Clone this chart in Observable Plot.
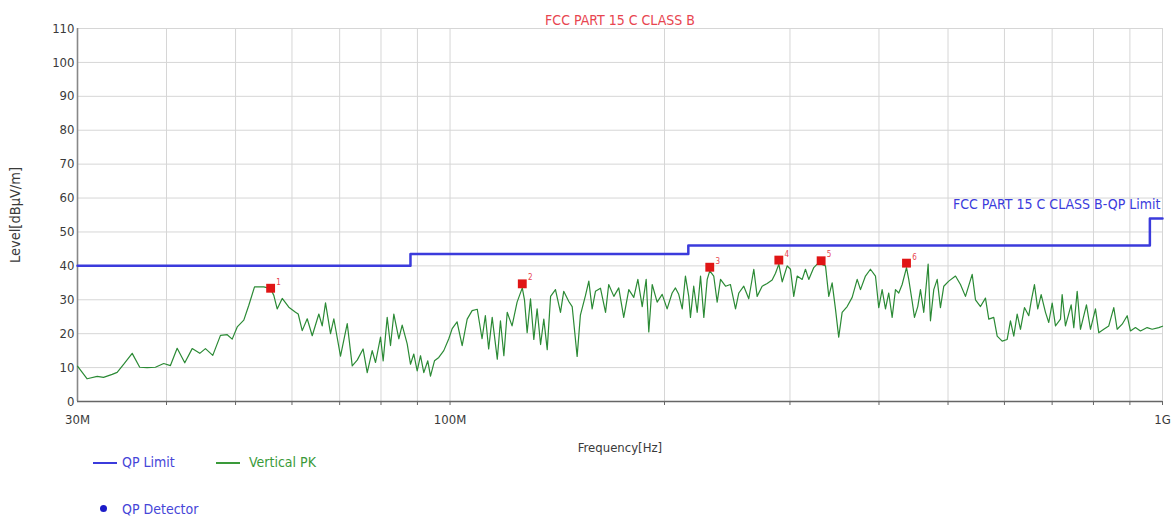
<!DOCTYPE html>
<html>
<head>
<meta charset="utf-8">
<script src="https://cdn.jsdelivr.net/npm/d3@7"></script>
<script src="https://cdn.jsdelivr.net/npm/@observablehq/plot@0.6"></script>
<style>
  html, body { margin: 0; padding: 0; background: #fff; }
  #wrap { position: relative; width: 1175px; height: 523px; font-family: "DejaVu Sans Condensed", "Liberation Sans Narrow", sans-serif; }
  .leg { position: absolute; font-size: 14px; line-height: 14px; white-space: nowrap; }
  .legline { position: absolute; height: 2px; }
  .legdot { position: absolute; width: 7px; height: 7px; border-radius: 50%; background: #1c1cc8; }
</style>
</head>
<body>
<div id="wrap"></div>
<script>
// ---- data ----
const titleText = "FCC PART 15 C CLASS B";
const limitName = "FCC PART 15 C CLASS B-QP Limit";
const xAxisLabel = "Frequency[Hz]";
const yAxisLabel = "Level[dBµV/m]";
const xTickValues = [30, 100, 1000];
const xTickLabels = ["30M", "100M", "1G"];
const xGridFreqs = [40, 50, 60, 70, 80, 90, 100, 200, 300, 400, 500, 600, 700, 800, 900, 1000];
const yTicks = [0, 10, 20, 30, 40, 50, 60, 70, 80, 90, 100, 110];

// QP limit (MHz, dBuV/m), step-after
const limitFreq = [30, 88, 216, 960, 1000];
const limitLevel = [40, 43.5, 46, 54, 54];

// Vertical PK trace (MHz)
const traceFreq = [
  30, 30.95, 31.97, 32.63, 33.56, 34.1, 34.84, 35.8, 36.68, 37.57, 38.59, 39.64, 40.51, 41.4, 42.43, 43.46, 44.54, 45.36, 46.45, 47.62,
  48.67, 49.46, 50.27, 51.35, 52.19, 53.16, 54.78, 55.98, 56.58, 57.2, 58.14, 59.39, 60.69, 61.22, 62.02, 63.03, 64.06, 65.44, 66.16, 66.87,
  67.96, 68.69, 70.19, 71.73, 72.9, 74.08, 75.5, 76.52, 77.76, 78.6, 79.88, 80.57, 81.62, 82.5, 83.39, 84.75, 85.67, 87.07, 88.0, 88.95,
  89.93, 90.9, 91.87, 93.06, 93.88, 95.1, 96.43, 98.0, 99.6, 100.7, 102.3, 104.0, 105.7, 107.4, 109.2, 110.9, 112.1, 113.3, 114.6, 116.5,
  117.7, 119.0, 120.3, 122.2, 124.2, 126.3, 127.2, 128.3, 129.7, 131.1, 132.5, 134.0, 135.4, 136.9, 138.4, 140.6, 142.9, 144.4, 146.8, 148.4,
  150.8, 152.4, 154.9, 156.6, 158.3, 160.0, 162.6, 165.3, 167.0, 169.8, 172.5, 175.3, 178.2, 181.1, 183.5, 186.1, 188.5, 190.1, 192.2, 195.3,
  198.5, 201.7, 205.0, 207.2, 209.4, 211.8, 214.0, 216.3, 217.5, 219.8, 222.3, 224.7, 227.1, 229.6, 231.5, 234.5, 237.1, 239.7, 243.6, 247.5,
  251.6, 254.3, 258.4, 262.6, 266.9, 269.8, 274.2, 278.7, 283.2, 286.3, 289.4, 292.6, 297.3, 300.5, 303.7, 307.1, 312.1, 315.4, 318.8, 324.0,
  327.6, 331.8, 336.5, 340.1, 343.8, 347.5, 351.2, 355.1, 360.9, 366.8, 372.8, 376.8, 382.9, 389.1, 395.5, 399.7, 404.1, 408.5, 412.8, 417.4,
  421.9, 426.4, 431.1, 437.2, 440.4, 445.3, 448.6, 453.4, 457.4, 462.3, 468.9, 472.4, 477.5, 482.8, 487.9, 493.2, 501.2, 512.2, 520.5, 529.0,
  540.6, 546.4, 555.3, 564.3, 570.4, 579.6, 586.1, 595.6, 605.3, 611.8, 618.4, 625.2, 631.9, 640.1, 649.1, 654.1, 661.1, 668.2, 675.6, 685.1,
  692.4, 700.1, 707.6, 719.1, 723.0, 730.8, 744.4, 750.7, 759.0, 767.1, 782.1, 792.3, 805.2, 813.8, 827.1, 840.6, 854.3, 863.7, 877.8, 892.1,
  901.6, 916.3, 931.2, 951.6, 967.1, 988.0, 1000
];
const traceLevel = [
  10.4, 6.7, 7.4, 7.1, 8.0, 8.6, 11.0, 14.2, 10.1, 10.0, 10.1, 11.2, 10.6, 15.7, 11.4, 15.6, 14.2, 15.6, 13.6, 19.5,
  19.7, 18.4, 22.0, 24.0, 28.4, 33.8, 33.8, 33.3, 31.3, 27.3, 30.4, 27.8, 26.3, 25.8, 20.9, 24.4, 19.4, 25.8, 22.3, 29.1,
  20.0, 24.4, 13.4, 23.0, 10.5, 12.2, 15.5, 8.5, 15.0, 11.5, 19.0, 12.0, 24.8, 16.5, 25.8, 18.5, 22.5, 17.0, 11.0, 14.0,
  9.0, 13.5, 8.5, 12.0, 7.5, 12.0, 13.0, 15.0, 18.5, 21.5, 23.5, 16.5, 24.3, 26.8, 27.2, 18.5, 25.3, 15.5, 24.8, 12.5,
  23.8, 13.5, 26.3, 22.3, 29.3, 33.5, 30.0, 20.3, 30.3, 18.3, 27.3, 16.8, 24.3, 15.3, 31.0, 33.0, 26.3, 32.5, 29.5, 28.0,
  13.3, 25.5, 31.2, 35.5, 27.3, 32.5, 33.4, 26.3, 34.5, 31.0, 33.5, 24.8, 33.0, 30.7, 36.0, 28.0, 36.0, 20.5, 34.5, 29.3,
  31.6, 27.3, 32.0, 33.5, 31.6, 27.3, 37.0, 31.0, 24.8, 34.0, 26.3, 37.0, 24.8, 36.0, 38.5, 37.0, 29.3, 36.0, 34.0, 34.5,
  27.3, 32.0, 34.0, 30.3, 39.0, 31.0, 34.0, 34.8, 35.8, 37.8, 40.5, 35.3, 40.0, 39.0, 31.0, 37.0, 36.0, 39.0, 36.0, 39.5,
  40.5, 40.5, 40.0, 31.0, 35.0, 27.3, 19.0, 26.3, 28.0, 30.7, 36.0, 33.0, 37.0, 39.0, 37.0, 27.7, 33.0, 27.3, 32.0, 24.8,
  33.0, 32.0, 34.5, 39.5, 36.0, 29.5, 24.8, 28.0, 33.0, 26.3, 40.5, 23.8, 33.0, 36.0, 27.7, 34.0, 35.5, 37.0, 34.5, 31.0,
  37.5, 30.0, 28.0, 30.5, 24.3, 24.8, 19.3, 17.8, 18.3, 23.8, 19.3, 25.8, 21.3, 27.7, 25.3, 29.5, 34.5, 27.3, 31.5, 26.3,
  23.3, 29.0, 22.3, 24.3, 31.5, 22.3, 28.5, 21.8, 32.5, 21.3, 28.5, 21.3, 27.3, 20.3, 21.3, 22.3, 27.7, 21.3, 22.8, 25.3,
  20.8, 21.8, 20.8, 21.8, 21.3, 21.8, 22.2
];

// QP detector points
const markerIds = ["1", "2", "3", "4", "5", "6"];
const markerFreq = [56.0, 126.3, 231.5, 289.4, 331.8, 437.2];
const markerLevel = [33.4, 34.7, 39.6, 41.7, 41.5, 40.8];

// ---- build ----
const FONT = '"DejaVu Sans Condensed", "Liberation Sans Narrow", sans-serif';
const trace = traceFreq.map((f, i) => ({f, v: traceLevel[i]}));
const limit = limitFreq.map((f, i) => ({f, v: limitLevel[i]}));
const markers = markerFreq.map((f, i) => ({id: markerIds[i], f, v: markerLevel[i]}));

const chart = Plot.plot({
  width: 1175,
  height: 470,
  marginLeft: 77,
  marginRight: 13,
  marginTop: 28,
  marginBottom: 69,
  style: {fontFamily: FONT, fontSize: "13px", color: "#3a3a3a", background: "#fff", overflow: "visible"},
  x: {type: "log", domain: [30, 1000]},
  y: {domain: [0, 110]},
  marks: [
    Plot.gridX(xGridFreqs, {stroke: "#d6d6d6", strokeOpacity: 1}),
    Plot.gridY(yTicks, {stroke: "#d6d6d6", strokeOpacity: 1}),
    Plot.axisX(xGridFreqs, {tickSize: 4, tickFormat: () => "", stroke: "#666", label: null}),
    Plot.axisX(xTickValues, {
      tickSize: 0, tickPadding: 13, fontSize: 13,
      tickFormat: d => xTickLabels[xTickValues.indexOf(d)],
      label: xAxisLabel, labelAnchor: "center", labelArrow: "none", labelOffset: 50
    }),
    Plot.axisY(yTicks, {tickSize: 0, tickPadding: 3, fontSize: 13, label: null}),
    Plot.text([yAxisLabel], {frameAnchor: "left", textAnchor: "middle", rotate: -90, dx: -62, text: d => d, fontSize: 14.5, fill: "#3a3a3a"}),
    Plot.ruleX([30], {stroke: "#888", strokeWidth: 1.6}),
    Plot.ruleY([0], {stroke: "#666", strokeWidth: 1.6}),
    Plot.line(trace, {x: "f", y: "v", stroke: "#2b8a35", strokeWidth: 1.2}),
    Plot.line(limit, {x: "f", y: "v", curve: "step-after", stroke: "#3b3bdc", strokeWidth: 2.5}),
    Plot.text([limitName], {x: 1000, y: 58, text: d => d, textAnchor: "end", dx: -2, fill: "#3b3bdc", fontSize: 14}),
    Plot.dot(markers, {x: "f", y: "v", symbol: "square", r: 5, fill: "#e01515", stroke: "none"}),
    Plot.text(markers, {x: "f", y: "v", text: "id", dx: 8, dy: -6, fill: "#e8454f", fontSize: 8}),
    Plot.text([titleText], {frameAnchor: "top", dy: -13, text: d => d, fill: "#e8454f", fontSize: 14})
  ]
});

const wrap = document.getElementById("wrap");
wrap.appendChild(chart);

// legend (HTML placed below the chart area)
function add(html) { wrap.insertAdjacentHTML("beforeend", html); }
add('<div class="legline" style="left:93px;top:462px;width:24px;background:#3b3bdc"></div>');
add('<div class="leg" style="left:122px;top:455px;color:#4646d8">QP Limit</div>');
add('<div class="legline" style="left:216px;top:462px;width:24px;background:#3a9a3a"></div>');
add('<div class="leg" style="left:249px;top:455px;color:#3a9a3a">Vertical PK</div>');
add('<div class="legdot" style="left:100px;top:505px"></div>');
add('<div class="leg" style="left:122px;top:502px;color:#4646d8">QP Detector</div>');
</script>
</body>
</html>
